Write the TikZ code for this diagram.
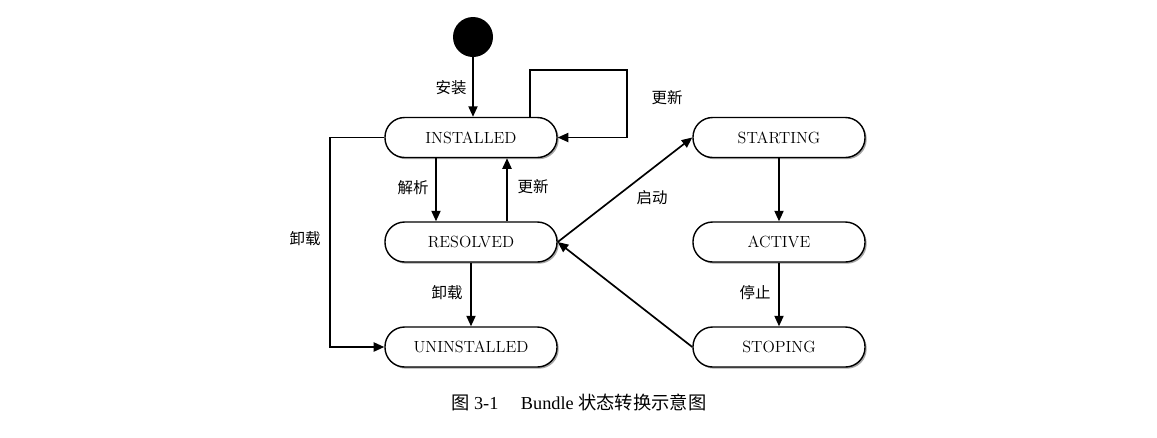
\documentclass[tikz,border=0pt]{standalone}
\usepackage{fontspec}
\newfontfamily\cjk{Noto Sans CJK SC}
\newfontfamily\capfont{Liberation Serif}
\usepackage{tikz}
\usetikzlibrary{arrows.meta,calc,positioning,shadows}

\begin{document}
\begin{tikzpicture}[x=0.025cm,y=-0.025cm,
  state/.style={draw,line width=1pt,fill=white,rounded corners=14pt,
    minimum width=4.3cm,minimum height=1cm,font=\fontsize{11.5}{13}\selectfont,
    drop shadow={shadow xshift=1.2pt,shadow yshift=-1.2pt,fill=black!35,opacity=1}},
  arr/.style={line width=1.2pt,-{Triangle[length=7.5pt,width=6.5pt]}},
  lab/.style={font=\cjk\fontsize{11}{13}\selectfont}]
  \useasboundingbox (0,0) rectangle (1157,437);
  % states
  \node[circle,fill=black,minimum size=1cm,inner sep=0pt] (init) at (473,37) {};
  \node[state] (inst) at (471,137.5) {INSTALLED};
  \node[state] (res) at (471,242) {RESOLVED};
  \node[state] (uninst) at (471,347) {UNINSTALLED};
  \node[state] (start) at (779,137.5) {STARTING};
  \node[state] (act) at (779,242) {ACTIVE};
  \node[state] (stop) at (779,347) {STOPING};
  % helper points
  \coordinate (loopA) at (530,70);
  \coordinate (loopB) at (627,70);
  \coordinate (ujog) at (330,347);
  % transitions
  \draw[arr] (init) -- (init |- inst.north);
  \draw[line width=1pt,-{Triangle[length=7.5pt,width=6.5pt]}] (loopA |- inst.north) -- (loopA) -- (loopB) |- (inst.east);
  \draw[arr] ([xshift=-0.875cm]inst.south) -- ([xshift=-0.875cm]res.north);
  \draw[arr] ([xshift=0.9cm]res.north) -- ([xshift=0.9cm]inst.south);
  \draw[arr] (res) -- (uninst);
  \draw[arr] (inst.west) -| (ujog) -- (uninst.west);
  \draw[arr] (res.east) -- (start.west);
  \draw[arr] (stop.west) -- (res.east);
  \draw[arr] (start) -- (act);
  \draw[arr] (act) -- (stop);
  % labels
  \node[lab] (l1) at (451,88) {安装};
  \node[lab] (l2) at (667,98) {更新};
  \node[lab] (l3) at (413,188) {解析};
  \node[lab] (l4) at (533,187) {更新};
  \node[lab] (l5) at (447,293) {卸载};
  \node[lab] (l6) at (305,239) {卸载};
  \node[lab] (l7) at (652,198) {启动};
  \node[lab] (l8) at (755,293) {停止};
  \node[font=\fontsize{13}{15}\selectfont] (cap) at (579,402)
    {\cjk 图\ \capfont 3-1\hspace{16pt}Bundle \cjk 状态转换示意图};
\end{tikzpicture}
\end{document}
